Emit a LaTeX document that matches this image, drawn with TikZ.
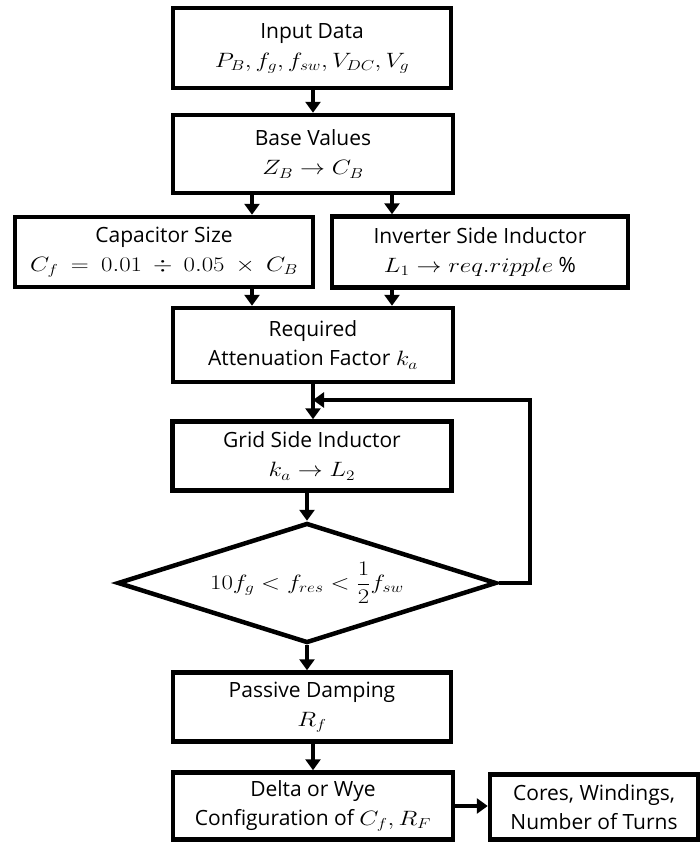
\documentclass[tikz,border=0pt]{standalone}
\usepackage{fontspec}
\setmainfont{Open Sans}
\usepackage{graphicx}
\usetikzlibrary{shapes.geometric,arrows.meta}
\newcommand\mth[1]{\scalebox{1.2}[1]{$#1$}}
\begin{document}
\begin{tikzpicture}[x=1pt,y=-1pt,
  box/.style={draw,line width=4.5pt,fill=white,align=center,inner sep=2pt,
    font=\fontsize{21}{29}\selectfont},
  arr/.style={line width=4.5pt,-{Triangle[length=11pt,width=15pt]}},
  ln/.style={line width=4.5pt}]
\useasboundingbox (0,0) rectangle (700,843);
\node[box,minimum width=278pt,minimum height=80pt] (in) at (312,48)
  {Input Data\\ \mth{P_B, f_g, f_{sw}, V_{DC}, V_g}};
\node[box,minimum width=280pt,minimum height=78pt] (base) at (313,154)
  {Base Values\\ \mth{Z_B \rightarrow C_B}};
\node[box,minimum width=298pt,minimum height=70pt] (cap) at (164,252)
  {Capacitor Size\\ \mth{C_f \:=\: 0.01 \:\div\: 0.05 \:\times\: C_B}};
\node[box,minimum width=296pt,minimum height=71pt] (inv) at (480,252)
  {Inverter Side Inductor\\ \mth{L_1 \rightarrow req.ripple} \%};
\node[box,minimum width=280pt,minimum height=74pt] (req) at (313,345)
  {Required\\ Attenuation Factor \mth{k_a}};
\node[box,minimum width=279pt,minimum height=69pt] (grid) at (312,456)
  {Grid Side Inductor\\ \mth{k_a \rightarrow L_2}};
\node[box,shape=diamond,aspect=3.16,minimum width=379pt,minimum height=120pt,inner sep=0pt] (dia) at (307,583)
  {\mth{10f_g < f_{res} < \displaystyle\frac{1}{2} f_{sw}}};
\node[box,minimum width=278pt,minimum height=69pt] (pas) at (312,707)
  {Passive Damping\\ \mth{R_f}};
\node[box,minimum width=280pt,minimum height=67pt] (del) at (313,806)
  {Delta or Wye\\ Configuration of \mth{C_f, R_F}};
\node[box,minimum width=208pt,minimum height=65pt] (cor) at (594,807)
  {Cores, Windings,\\ Number of Turns};
\coordinate (c1) at (252,0);
\coordinate (c2) at (392,0);
\coordinate (mid) at (313,0);
\coordinate (fbx) at (530,0);
\coordinate (fby) at (0,400);
\draw[arr] (in.south -| mid) -- (base.north -| mid);
\draw[arr] (base.south -| c1) -- (cap.north -| c1);
\draw[arr] (base.south -| c2) -- (inv.north -| c2);
\draw[arr] (cap.south -| c1) -- (req.north -| c1);
\draw[arr] (inv.south -| c2) -- (req.north -| c2);
\draw[arr] (req.south -| mid) -- (grid.north -| mid);
\draw[arr] (grid.south -| dia.north) -- (dia.north);
\draw[ln,-{Triangle[length=11pt,width=15pt]}] (dia.east) -- (dia.east -| fbx) -- (fbx |- fby) -- (fby -| mid);
\draw[arr] (dia.south) -- (pas.north -| dia.south);
\draw[arr] (pas.south -| mid) -- (del.north -| mid);
\draw[arr] (del.east) -- (del.east -| cor.west);
\end{tikzpicture}
\end{document}
